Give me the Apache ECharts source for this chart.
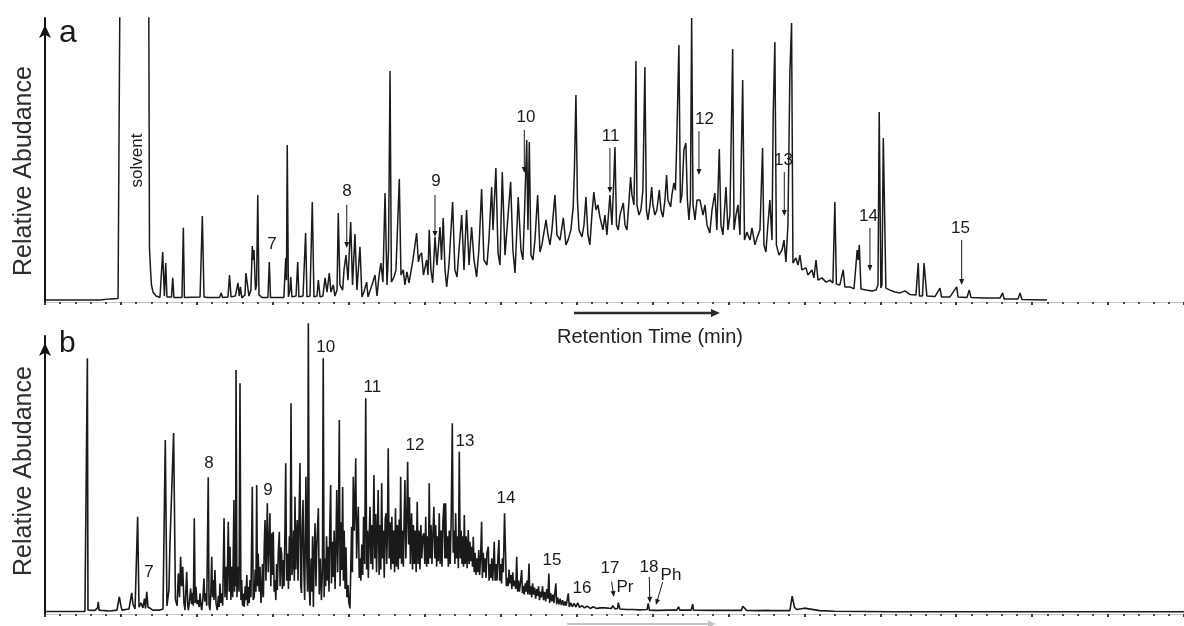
<!DOCTYPE html>
<html>
<head>
<meta charset="utf-8">
<script src="https://cdn.jsdelivr.net/npm/echarts@6/dist/echarts.min.js"></script>
<style>
  html, body { margin: 0; padding: 0; background: #fff; }
  #chart { width: 1184px; height: 626px; }
</style>
</head>
<body>
<div id="chart"></div>
<script>
// Retention time (min) on x, relative abundance (0-100) on y.
const timeRange = [0, 75];

// Chromatogram a: [retention time, relative abundance]; the solvent front runs off scale.
const traceA = [
  [0,0.7],[3.62,0.7],[4.28,1.1],[4.81,1.2],[4.94,1.8],[4.98,150],[5.04,150],[6.81,150],
  [6.88,19.0],[6.95,11.3],[7.01,6.0],[7.11,3.5],[7.31,2.1],[7.57,1.6],
  [7.67,1.6],[7.75,17.6],[7.86,2.1],[7.95,13.7],[8.03,1.8],
  [8.33,1.8],[8.41,8.5],[8.49,1.6],
  [9.02,1.6],[9.11,26.1],[9.18,1.6],
  [10.21,1.8],[10.36,30.3],[10.47,1.8],[10.60,2.1],[10.73,1.6],
  [11.49,1.6],[11.60,3.2],[11.69,1.6],
  [12.05,1.8],[12.15,9.5],[12.25,1.8],
  [12.53,2.1],[12.71,6.7],[12.79,2.1],[12.87,5.3],[12.96,1.4],
  [13.17,2.5],[13.23,10.2],[13.32,10.6],[13.43,2.1],
  [13.56,4.2],[13.65,19.7],[13.70,14.8],[13.76,18.3],[13.86,4.2],
  [13.93,6.0],[14.01,37.7],[14.09,2.5],[14.29,1.6],
  [14.68,1.6],[14.77,14.1],[14.85,1.6],
  [15.73,1.6],[15.85,15.5],[15.90,7.7],[15.95,55.3],[16.03,1.8],[16.13,4.2],[16.18,8.8],[16.26,1.8],[16.53,2.1],[16.64,14.1],[16.72,1.8],
  [16.99,2.1],[17.16,24.3],[17.25,1.8],[17.45,2.1],[17.60,35.2],[17.71,1.8],[17.91,2.1],[18.00,7.7],[18.11,1.8],
  [18.30,2.1],[18.44,8.5],[18.57,3.5],[18.72,10.2],[18.83,3.5],[18.98,6.0],[19.09,2.1],
  [19.23,4.2],[19.31,31.3],[19.42,6.0],[19.60,4.2],[19.69,11.3],[19.82,16.5],[19.95,7.7],[20.13,28.2],[20.25,6.0],[20.41,23.9],[20.54,4.2],[20.74,19.4],[20.87,1.8],[21.00,3.5],[21.18,7.0],[21.27,1.8],[21.40,2.5],[21.53,6.0],[21.73,9.5],[21.86,2.1],
  [22.00,9.5],[22.12,13.7],[22.25,7.0],[22.39,38.4],[22.52,6.0],[22.62,18.3],[22.72,81.3],[22.81,7.0],[22.98,8.8],[23.11,11.3],[23.33,43.3],[23.44,9.5],[23.59,11.3],[23.70,6.0],[23.83,10.6],[23.97,6.7],[24.10,6.7],[24.23,14.8],[24.47,24.3],[24.59,14.1],[24.69,16.5],[24.80,17.3],[24.92,9.5],[25.13,14.8],[25.22,9.5],[25.30,25.4],[25.41,11.3],[25.53,6.7],[25.68,22.9],[25.81,13.0],[26.01,26.4],[26.11,14.8],[26.22,29.6],[26.34,11.3],[26.45,5.3],[26.60,13.0],[26.84,35.2],[26.99,11.3],[27.13,8.8],[27.26,18.3],[27.44,30.6],[27.59,11.3],[27.76,32.4],[27.92,13.0],[28.09,26.4],[28.25,14.8],[28.42,8.8],[28.57,18.3],[28.75,39.8],[28.90,14.8],[29.10,13.0],[29.23,21.8],[29.41,40.5],[29.50,25.4],[29.69,47.2],[29.83,17.3],[29.96,13.0],[30.11,45.8],[30.29,16.5],[30.42,15.8],[30.66,42.3],[30.81,18.3],[30.95,10.2],[31.16,37.0],[31.34,18.3],[31.47,14.8],[31.57,30.6],[31.72,57.0],[31.80,25.4],[31.89,56.3],[32.00,16.5],[32.13,14.8],[32.26,21.8],[32.44,37.7],[32.59,17.6],[32.72,20.1],[32.99,28.9],[33.12,23.6],[33.25,20.1],[33.38,25.4],[33.58,37.7],[33.71,23.6],[33.91,21.8],[34.13,29.6],[34.30,20.1],[34.44,21.8],[34.63,25.4],[34.78,33.5],[34.86,46.5],[34.96,72.9],[35.06,35.9],[35.16,25.4],[35.36,22.9],[35.49,27.1],[35.62,37.0],[35.75,23.6],[35.88,20.1],[36.01,30.6],[36.14,38.7],[36.28,32.4],[36.41,34.2],[36.54,29.9],
  [36.74,25.4],[36.87,30.6],[37.00,23.6],[37.20,37.7],[37.33,27.1],[37.43,39.4],[37.53,54.6],[37.63,27.1],[37.75,25.4],[37.86,30.6],[38.08,34.9],[38.19,27.1],[38.32,25.4],[38.46,35.9],[38.56,44.0],[38.65,37.7],[38.78,34.2],[38.85,53.5],[38.91,84.9],[38.98,34.2],[39.11,30.6],[39.24,32.4],[39.37,39.4],[39.50,82.7],[39.60,32.4],[39.70,28.9],[39.84,34.2],[39.95,40.5],[40.03,34.2],[40.16,30.6],[40.29,32.4],[40.45,39.4],[40.56,32.4],[40.69,29.9],[40.82,35.9],[40.93,44.7],[41.02,35.9],[41.20,33.5],[41.28,37.7],[41.41,41.9],[41.51,39.4],[41.59,54.6],[41.74,90.5],[41.84,34.9],[41.94,37.7],[42.07,53.5],[42.20,56.0],[42.30,35.9],[42.40,28.9],[42.50,35.9],[42.58,100],[42.67,34.2],[42.80,28.9],[42.93,35.9],[43.13,35.9],[43.33,30.6],[43.46,34.2],[43.59,27.1],[43.78,24.3],[43.92,32.4],[44.11,38.4],[44.24,25.4],[44.40,53.9],[44.51,27.1],[44.64,23.6],[44.84,40.5],[44.97,25.4],[45.10,30.6],[45.28,89.1],[45.37,25.4],[45.50,30.6],[45.63,34.2],[45.76,23.6],[45.94,78.2],[46.06,21.8],[46.22,24.6],[46.42,21.8],[46.55,26.1],[46.75,20.1],[46.88,22.5],[47.08,25.4],[47.25,54.2],[47.34,20.1],[47.47,17.6],[47.60,27.1],[47.73,35.9],[47.87,21.8],[47.95,65.8],[48.06,91.5],[48.16,20.1],[48.33,16.5],[48.53,18.3],[48.66,21.8],[48.79,14.1],[48.92,27.1],[49.05,81.0],[49.16,98.2],[49.25,13.7],[49.44,15.5],[49.58,13.0],[49.71,16.5],[49.84,11.3],[50.11,12.0],[50.24,9.5],[50.50,11.3],[50.63,8.5],[50.77,14.8],[50.90,7.7],[51.16,8.5],[51.43,7.0],[51.69,7.7],[51.88,6.7],[52.01,35.2],[52.11,6.3],[52.34,6.0],[52.56,11.3],[52.67,5.3],[53.00,5.3],[53.27,4.6],[53.48,18.3],[53.55,14.8],[53.62,20.1],[53.73,4.6],[54.06,4.2],[54.46,3.9],[54.72,4.2],[54.85,6.0],[54.93,66.9],[55.04,4.9],[55.11,6.0],[55.20,57.7],[55.31,57.0],[55.37,4.9],[55.64,4.2],[55.96,3.5],[56.30,3.2],
  [56.63,3.9],[56.96,2.6],[57.35,2.5],[57.45,2.1],[57.50,13.7],[57.58,2.1],[57.78,2.1],[57.88,13.7],[57.98,14.1],[58.07,2.1],[58.60,1.9],[58.93,4.9],[59.03,1.8],[59.59,1.8],[60.03,5.3],[60.12,1.8],[60.71,1.6],[60.86,4.2],[60.97,1.6],[61.90,1.4],[62.88,1.4],[63.06,3.2],[63.15,1.1],[64.07,1.1],[64.20,3.2],[64.33,0.9],[65.98,0.7]
];

// Chromatogram b: [retention time, relative abundance].
const traceB = [
  [0,0.9],[2.63,0.9],[2.73,1.4],[2.79,92.0],[2.83,1.4],[3.29,1.3],[3.46,2.2],[3.51,4.4],[3.56,1.4],[3.65,2.0],[3.72,1.3],[4.28,1.1],[4.74,1.4],[4.89,6.2],[5.00,2.9],[5.07,1.4],[5.53,1.8],[5.71,7.6],[5.79,3.6],[5.93,1.8],[6.10,35.0],[6.19,2.5],[6.32,4.0],[6.45,2.2],[6.55,5.5],[6.62,2.0],[6.70,8.0],[6.78,2.5],[6.91,1.8],[7.11,1.4],[7.57,1.4],[7.77,1.8],[7.92,62.6],[8.03,2.9],[8.16,8.6],[8.23,25.5],[8.33,24.8],[8.47,65.1],[8.59,5.0],
  [8.70,3.0],[8.78,14.6],[8.86,6.0],[8.93,20.6],[9.00,10.0],[9.07,17.0],[9.15,4.0],[9.22,1.4],[9.33,15.2],[9.40,3.0],[9.44,1.4],[9.52,5.0],[9.59,9.2],[9.65,3.5],[9.72,7.6],[9.77,3.0],[9.83,34.4],[9.89,4.0],[9.94,9.8],[10.01,3.5],[10.09,5.0],[10.15,2.5],[10.21,7.4],[10.27,3.0],[10.32,1.4],[10.40,6.0],[10.47,12.8],[10.52,4.5],[10.58,7.4],[10.65,3.0],[10.75,49.2],[10.80,3.5],[10.86,1.4],[10.92,8.0],[10.98,20.6],[11.03,6.0],[11.08,12.2],[11.13,5.0],[11.19,15.8],[11.26,4.0],[11.34,1.4],[11.42,6.5],[11.47,2.5],[11.52,11.0],[11.58,4.0],[11.63,7.4],[11.70,3.0],[11.79,34.4],[11.85,6.0],[11.92,17.0],[11.98,5.0],[12.07,33.2],[12.13,8.0],[12.18,24.2],[12.24,5.0],[12.29,17.0],[12.36,6.0],[12.44,41.0],[12.48,8.0],[12.51,19.4],[12.55,10.0],[12.58,87.8],[12.64,6.0],[12.68,12.0],[12.73,17.0],[12.78,8.0],[12.84,83.0],[12.90,5.0],[12.95,12.2],[13.01,3.0],[13.06,7.4],[13.12,2.5],[13.18,10.0],[13.23,5.0],[13.29,14.0],[13.34,3.0],[13.39,9.8],[13.45,4.0],[13.50,12.2],[13.56,6.0],[13.65,45.8],[13.71,5.0],[13.78,6.2],[13.84,16.0],[13.89,8.0],[13.94,46.4],[13.99,10.0],[14.04,21.8],[14.10,8.0],[14.16,17.0],[14.22,4.0],[14.27,7.4],[14.32,18.0],[14.38,6.0],[14.44,25.0],[14.49,33.8],[14.55,12.0],[14.64,39.8],[14.70,15.0],[14.75,24.0],[14.81,36.2],[14.87,10.0],[14.93,29.0],[14.98,14.0],[15.03,29.6],[15.09,8.0],[15.14,12.2],[15.20,5.0],[15.25,18.0],[15.30,8.6],[15.36,22.0],[15.43,29.6],[15.48,10.0],[15.53,24.0],[15.58,21.8],[15.63,9.0],[15.69,19.4],[15.74,10.0],[15.80,30.0],[15.85,54.2],[15.91,12.0],[15.98,21.8],[16.03,9.0],[16.09,28.0],[16.14,12.0],[16.20,75.8],[16.26,14.0],[16.31,17.0],[16.37,30.0],[16.42,12.0],[16.46,42.2],[16.52,16.0],[16.57,28.0],[16.61,33.8],[16.66,12.0],[16.74,38.6],[16.79,54.3],[16.84,10.0],[16.89,7.6],
  [16.93,30.0],[16.99,41.0],[17.05,15.0],[17.10,5.0],[17.18,49.4],[17.24,20.0],[17.29,8.0],[17.34,104.6],[17.40,10.0],[17.45,3.0],[17.52,20.0],[17.57,8.0],[17.62,28.0],[17.67,2.5],[17.72,20.0],[17.78,32.6],[17.84,10.0],[17.90,25.0],[18.00,38.0],[18.06,7.0],[18.13,20.0],[18.20,5.0],[18.27,16.0],[18.32,92.0],[18.38,6.0],[18.43,20.0],[18.48,10.0],[18.54,28.0],[18.60,12.0],[18.65,24.2],[18.70,8.0],[18.75,30.0],[18.81,46.4],[18.86,11.0],[18.92,26.0],[18.98,13.3],[19.04,30.0],[19.10,9.0],[19.16,25.5],[19.21,44.6],[19.27,15.0],[19.32,30.0],[19.38,69.8],[19.43,10.0],[19.48,33.0],[19.54,15.8],[19.60,45.7],[19.65,12.0],[19.70,30.0],[19.76,9.0],[19.82,24.0],[19.88,6.0],[19.95,10.4],[20.01,4.0],[20.08,2.0],[20.13,15.0],[20.19,31.4],[20.24,15.0],[20.30,49.4],[20.36,30.0],[20.41,38.0],[20.46,56.0],[20.52,20.0],[20.57,30.0],[20.63,38.6],[20.69,13.0],[20.75,20.0],[20.80,12.0],[20.86,25.0],[20.92,14.0],[20.98,35.0],[21.05,18.0],[21.12,77.6],[21.18,16.0],[21.24,30.0],[21.29,13.0],[21.35,28.0],[21.40,38.6],[21.46,18.0],[21.52,32.0],[21.58,16.0],[21.66,50.0],[21.72,20.0],[21.78,36.0],[21.83,15.0],[21.88,28.0],[21.94,44.6],[22.00,14.0],[22.06,32.0],[22.11,16.0],[22.17,47.0],[22.23,20.0],[22.28,30.0],[22.34,13.0],[22.40,34.0],[22.45,36.2],[22.50,18.0],[22.55,30.0],[22.60,59.6],[22.66,20.0],[22.72,33.0],[22.78,16.0],[22.84,35.0],[22.90,18.0],[22.96,30.0],[23.02,15.0],[23.08,38.0],[23.14,17.0],[23.20,32.0],[23.26,16.0],[23.32,34.0],[23.37,20.0],[23.42,49.4],[23.48,18.0],[23.54,30.0],[23.60,17.0],[23.65,35.0],[23.70,48.2],[23.76,20.0],[23.82,34.0],[23.88,54.8],[23.94,25.0],[24.00,42.0],[24.06,18.0],[24.10,30.0],[24.14,36.2],[24.20,16.0],[24.26,32.0],[24.32,18.0],[24.38,30.0],[24.44,15.0],[24.51,40.4],[24.57,18.0],[24.63,30.0],[24.69,16.0],[24.75,32.0],[24.81,20.0],[24.88,28.0],[24.95,29.0],[25.01,18.0],[25.07,35.0],[25.13,17.0],[25.19,28.0],[25.25,18.0],[25.30,47.0],[25.36,20.0],[25.42,32.0],[25.48,18.0],[25.55,30.0],[25.61,38.6],[25.67,20.0],[25.73,32.0],[25.79,17.0],[25.85,28.0],[25.90,19.0],[25.96,36.2],[26.02,18.0],[26.08,30.0],[26.14,17.0],[26.20,33.0],[26.27,39.8],[26.33,20.0],
  [26.38,39.8],[26.44,20.0],[26.50,28.0],[26.56,17.0],[26.62,30.0],[26.68,18.0],[26.75,35.0],[26.82,68.6],[26.88,22.0],[26.94,30.0],[26.99,18.0],[27.04,36.2],[27.10,20.0],[27.16,28.0],[27.22,16.5],[27.28,58.4],[27.34,20.0],[27.40,30.0],[27.46,18.0],[27.52,28.0],[27.56,17.0],[27.61,35.6],[27.67,18.0],[27.73,28.0],[27.80,16.5],[27.87,30.2],[27.93,18.0],[27.98,26.0],[28.04,19.0],[28.10,24.2],[28.15,17.0],[28.20,27.8],[28.26,15.0],[28.32,22.0],[28.38,14.0],[28.44,20.0],[28.50,15.0],[28.56,23.0],[28.62,14.0],[28.68,20.0],[28.75,33.2],[28.80,13.0],[28.86,22.0],[28.92,15.0],[28.98,20.0],[29.04,13.0],[29.10,22.0],[29.19,24.2],[29.24,12.0],[29.30,18.0],[29.36,13.0],[29.42,20.0],[29.48,12.0],[29.53,18.0],[29.58,26.0],[29.64,12.0],[29.70,18.0],[29.76,12.0],[29.82,20.0],[29.89,26.6],[29.94,12.0],[30.00,18.0],[30.06,11.0],[30.12,20.0],[30.18,15.0],[30.26,36.2],[30.33,36.2],[30.38,10.0],[30.44,13.0],[30.50,10.0],[30.56,16.0],[30.62,11.0],[30.68,14.0],[30.74,9.0],[30.80,15.0],[30.86,10.0],[30.92,12.0],[31.00,9.0],[31.06,20.6],[31.12,8.0],[31.18,12.0],[31.24,8.0],[31.30,11.0],[31.39,15.8],[31.44,7.5],[31.50,10.0],[31.56,7.0],[31.62,11.0],[31.68,8.0],[31.74,12.0],[31.80,7.0],[31.87,18.2],[31.92,7.0],[31.98,10.0],[32.05,6.0],[32.11,11.0],[32.17,7.0],[32.24,9.5],[32.31,5.5],[32.38,9.0],[32.44,6.5],[32.50,10.0],[32.56,5.0],[32.62,8.0],[32.69,6.0],[32.76,10.0],[32.83,5.0],[32.90,8.0],[32.97,4.5],[33.04,9.0],[33.11,5.5],[33.18,14.6],[33.23,4.0],[33.30,7.5],[33.37,4.5],[33.44,7.0],[33.51,4.0],[33.58,8.0],[33.64,11.0],[33.69,3.5],[33.76,6.0],[33.84,3.5],[33.92,5.5],[34.00,3.2],[34.08,5.0],[34.16,3.0],[34.24,4.5],[34.32,3.0],[34.40,5.5],[34.46,7.4],[34.52,2.5],[34.62,4.0],[34.72,2.6],[34.84,3.8],[34.96,2.5],[35.08,4.0],[35.20,2.4],[35.36,3.0],[35.52,2.2],[35.70,2.8],[35.90,2.0],[36.10,2.6],[36.32,2.0],[36.54,2.2],
  [36.87,2.2],[37.30,2.0],[37.38,3.0],[37.42,2.4],[37.55,1.8],[37.70,2.0],[37.75,4.1],[37.80,4.0],[37.86,1.8],[38.30,1.6],[38.73,1.6],[39.10,1.5],[39.65,1.6],[39.72,3.8],[39.80,1.4],[40.20,1.3],[40.30,1.9],[40.36,1.3],[41.00,1.4],[41.60,1.4],[41.72,2.6],[41.80,1.4],[42.55,1.4],[42.65,3.6],[42.70,1.4],[44.00,1.3],[45.20,1.3],[45.30,1.9],[45.40,1.3],[45.85,1.3],[45.95,2.8],[46.05,2.5],[46.20,1.3],[46.90,1.2],[47.60,1.3],[47.70,1.8],[47.80,1.2],[49.05,1.2],[49.20,6.4],[49.35,2.4],[49.50,1.6],[50.00,2.1],[50.10,1.5],[51.00,1.2],[52.00,1.0],[55.83,0.8],[75,0.8]
];

// Peak annotations: [text, retention time, abundance]
const peakNumbersA = [
  ['7',14.95,20.4],['8',19.89,38.9],['9',25.75,42.4],['10',31.67,65.1],['11',37.24,58.3],
  ['12',43.43,64.4],['13',48.63,49.8],['14',54.22,30.3],['15',60.28,25.9]
];
// Pointer arrows: [time from, abundance from, time to, abundance to]
const peakArrowsA = [
  [19.87,34.2,19.87,19.0],[25.68,37.7,25.68,22.9],[31.56,60.6,31.56,45.4],[37.20,54.2,37.20,38.4],
  [43.06,60.2,43.06,44.7],[48.68,45.8,48.68,30.3],[54.32,26.1,54.32,10.9],[60.36,21.8,60.36,6.0]
];
const solventNote = ['solvent', 6.09, 49.8];

const peakNumbersB = [
  ['7',6.85,15.1],['8',10.80,54.3],['9',14.68,44.6],['10',18.48,96.0],['11',21.56,81.5],
  ['12',24.36,60.8],['13',27.65,62.2],['14',30.35,41.7],['15',33.38,19.4],['16',35.36,9.4],
  ['17',37.20,16.5],['Pr',38.19,9.7],['18',39.77,16.9],['Ph',41.22,14.0]
];
const peakArrowsB = [
  [37.31,11.6,37.46,6.1],[39.79,13.3,39.83,4.0],[40.67,11.5,40.23,3.2]
];

const FONT = '"Liberation Sans", Arial, Helvetica, sans-serif';
const INK = '#1a1a1a';

const chart = echarts.init(document.getElementById('chart'), null, { renderer: 'canvas' });

function timeAxis(gi) {
  return {
    type: 'value', gridIndex: gi, min: timeRange[0], max: timeRange[1], interval: 5,
    axisLine: { show: true, onZero: false, lineStyle: { color: '#c8c8c8', width: 1 } },
    axisTick: { show: true, length: 3, lineStyle: { color: '#3a3a3a', width: 2 } },
    minorTick: { show: true, splitNumber: 5, length: 2, lineStyle: { color: '#4a4a4a', width: 2 } },
    axisLabel: { show: false }, splitLine: { show: false }, minorSplitLine: { show: false }
  };
}
function abundanceAxis(gi) {
  return {
    type: 'value', gridIndex: gi, min: 0, max: 100,
    axisLine: { show: true, symbol: ['none', 'arrow'], symbolSize: [9, 13], symbolOffset: [0, -7],
                lineStyle: { color: '#111', width: 2 } },
    axisTick: { show: false }, axisLabel: { show: false }, splitLine: { show: false }
  };
}
function trace(gi, data, clip, width) {
  return {
    type: 'line', xAxisIndex: gi, yAxisIndex: gi, data, clip,
    symbol: 'none', showSymbol: false, silent: true, animation: false,
    lineStyle: { color: INK, width }, z: 2
  };
}

chart.setOption({
  animation: false,
  grid: [
    { left: 45, right: 0, top: 18, height: 284 },
    { left: 45, right: 0, top: 336, height: 278 }
  ],
  xAxis: [timeAxis(0), timeAxis(1)],
  yAxis: [abundanceAxis(0), abundanceAxis(1)],
  series: [trace(0, traceA, true, 1.5), trace(1, traceB, false, 1.6)]
});

// Annotations placed through the axes' own scales.
const px = (gi, t, v) => chart.convertToPixel({ gridIndex: gi }, [t, v]);
const elements = [];

function text(str, x, y, size, opts) {
  opts = opts || {};
  elements.push({
    type: 'text', x, y, rotation: opts.rotation || 0, silent: true, z: 10,
    style: {
      text: str, font: `${size}px ${FONT}`, fill: opts.fill || INK,
      align: opts.align || 'center', verticalAlign: 'middle',
      textAlign: opts.align || 'center', textVerticalAlign: 'middle'
    }
  });
}
function arrow(p1, p2, color, width, headLen, headHalf) {
  const dx = p2[0] - p1[0], dy = p2[1] - p1[1];
  const len = Math.hypot(dx, dy) || 1;
  const ux = dx / len, uy = dy / len;
  const bx = p2[0] - ux * headLen, by = p2[1] - uy * headLen;
  elements.push({
    type: 'line', silent: true, z: 10,
    shape: { x1: p1[0], y1: p1[1], x2: bx + ux, y2: by + uy },
    style: { stroke: color, lineWidth: width }
  });
  elements.push({
    type: 'polygon', silent: true, z: 10,
    shape: { points: [[p2[0], p2[1]], [bx - uy * headHalf, by + ux * headHalf], [bx + uy * headHalf, by - ux * headHalf]] },
    style: { fill: color }
  });
}

peakNumbersA.forEach(([s, t, v]) => { const p = px(0, t, v); text(s, p[0], p[1], 17); });
peakArrowsA.forEach(([t1, v1, t2, v2]) => arrow(px(0, t1, v1), px(0, t2, v2), INK, 1, 6, 2.5));
peakNumbersB.forEach(([s, t, v]) => { const p = px(1, t, v); text(s, p[0], p[1], 17); });
peakArrowsB.forEach(([t1, v1, t2, v2]) => arrow(px(1, t1, v1), px(1, t2, v2), INK, 1, 6, 2.5));

{ const p = px(0, solventNote[1], solventNote[2]); text(solventNote[0], p[0], p[1], 17, { rotation: Math.PI / 2 }); }

// Panel letters and axis titles
text('a', 59, 33, 32, { align: 'left' });
text('b', 59, 344, 30, { align: 'left' });
text('Relative Abudance', 24, 171, 25, { rotation: Math.PI / 2, fill: '#2e2e2e' });
text('Relative Abudance', 24, 471, 25, { rotation: Math.PI / 2, fill: '#2e2e2e' });

// Direction of retention time
arrow([574, 313], [720, 313], '#2a2a2a', 2.5, 9, 4);
text('Retention Time (min)', 650, 337, 20, { fill: '#222' });
arrow([567, 624], [716, 624], '#c4c4c4', 2, 8, 3.5);

chart.setOption({ graphic: elements });
</script>
</body>
</html>
